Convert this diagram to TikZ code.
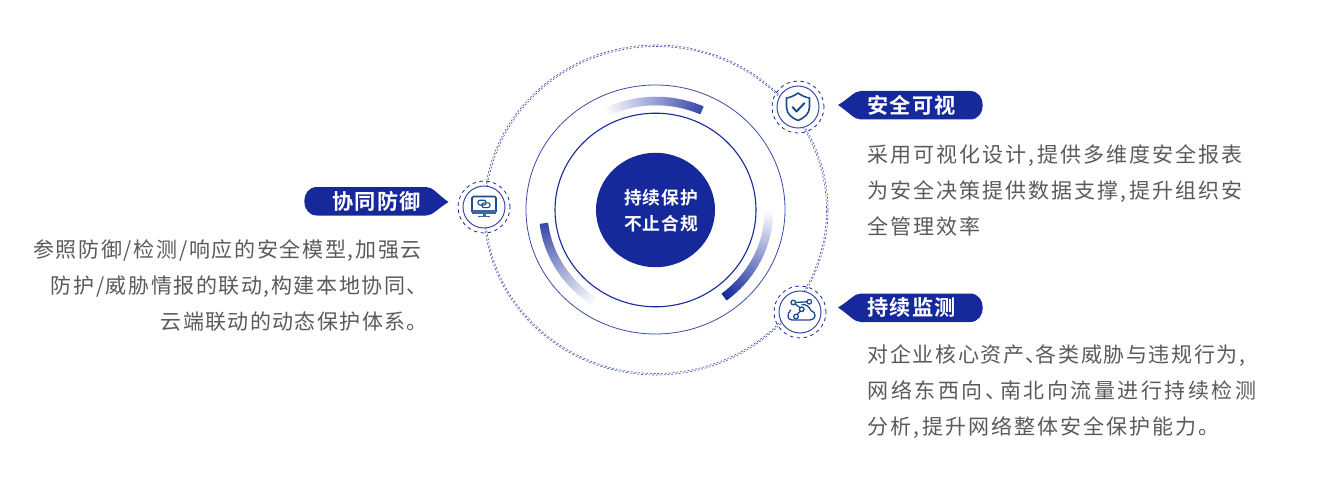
\documentclass[tikz,border=0pt]{standalone}
\usepackage{fontspec}
\setmainfont{Noto Sans CJK SC}
\newfontfamily\bodyf[LetterSpace=9.4]{Noto Sans CJK SC}
\newfontfamily\cone[LetterSpace=7.6]{Noto Sans CJK SC}
\newfontfamily\ctwo[LetterSpace=12]{Noto Sans CJK SC}
\newfontfamily\bone[LetterSpace=8]{Noto Sans CJK SC}
\newfontfamily\btwo[LetterSpace=7.5]{Noto Sans CJK SC}
\newfontfamily\bthree[LetterSpace=6.5]{Noto Sans CJK SC}
\newfontfamily\tagf[LetterSpace=6]{Noto Sans CJK SC Bold}
\newfontfamily\midf[LetterSpace=4.5]{Noto Sans CJK SC Bold}
\definecolor{tagblue}{HTML}{15299A}
\definecolor{ringblue}{HTML}{3A4BA8}
\definecolor{iconblue}{HTML}{1A4C90}
\definecolor{bodygray}{HTML}{5A5A5A}
\newcommand\btext[1]{#1\fontsize{21}{21}\selectfont}
\tikzset{
  bodytext/.style={text=bodygray,inner sep=0pt,font=\btext{\bodyf}},
  tagtext/.style={text=white,inner sep=0pt,font=\tagf\fontsize{21.2}{21.2}\selectfont},
  midtext/.style={text=white,inner sep=0pt,font=\midf\fontsize{17.8}{17.8}\selectfont},
  fine/.style={draw=ringblue,line width=0.6pt,dash pattern=on 2pt off 1.8pt},
  badgedash/.style={draw=tagblue,line width=0.8pt,dash pattern=on 3.5pt off 3.5pt},
  icon/.style={draw=iconblue,line width=1.6pt,line join=round,line cap=round},
}
\newcommand\gradarc[4]{%
  \foreach \i in {0,...,#4}{
    \pgfmathsetmacro\aA{#1+#2*\i}
    \pgfmathsetmacro\aB{#1+#2*(\i+1.4)}
    \pgfmathsetmacro\tint{max(0,#3*(1-\i/#4))}
    \draw[line width=8.5pt,draw=tagblue!\tint!white]
      ({656+113*cos(\aA)},{210-109*sin(\aA)}) -- ({656+113*cos(\aB)},{210-109*sin(\aB)});
  }
}
\newcommand\badge[3]{%
  \node[circle,fill=white,draw=ringblue,line width=1pt,minimum size=42pt,inner sep=0pt] (#1) at (#2,#3) {};
  \draw[badgedash,fill=none] (#1.center) circle [radius=26pt];
}
\newcommand\righttag[1]{%
  \fill[tagblue,shift={(0,#1)}] (861,0) -- (970,0) .. controls (987,0) and (987,28.5) .. (970,28.5) -- (861,28.5)
    .. controls (854,28.5) and (850,22) .. (838,14) .. controls (850,7) and (854,0) .. (861,0) -- cycle;
}
\begin{document}
\begin{tikzpicture}[x=1pt,y=-1pt]
\useasboundingbox (0,0) rectangle (1321,489);
\draw[fine] (656,210) ellipse [x radius=172pt,y radius=165pt];
\draw[fine,dash phase=1.9pt] (656,210) ellipse [x radius=170.5pt,y radius=163.5pt];
\draw[draw=ringblue,line width=0.8pt] (655.5,209.5) ellipse [x radius=129.5pt,y radius=124.5pt];
\draw[draw=tagblue,line width=1.1pt] (655.5,210) ellipse [x radius=100.5pt,y radius=96.8pt];
\gradarc{66}{1}{85}{50}
\gradarc{-53}{1}{100}{52}
\gradarc{187}{1}{85}{50}
\fill[tagblue] (655.5,210) ellipse [x radius=59.5pt,y radius=57.2pt];
\node[midtext,anchor=base] (mid1) at (661,204.5) {持续保护};
\node[midtext,anchor=base] (mid2) at (661,230.5) {不止合规};
\badge{bs}{798}{107}
\badge{bc}{800}{312}
\badge{bm}{484}{207}
\draw[icon] (798,93) .. controls (794,96) and (790,97.5) .. (786.5,98) -- (786.5,107)
  .. controls (786.5,114) and (792,118) .. (798,120.5)
  .. controls (804,118) and (809.5,114) .. (809.5,107) -- (809.5,98)
  .. controls (806,97.5) and (802,96) .. (798,93) -- cycle;
\draw[icon,line width=2pt] (792.5,107) -- (796.5,111.5) -- (804.5,103);
\draw[icon,line width=1.3pt] (790.5,310) .. controls (787,314) and (787,320) .. (792,320) -- (810,320)
  .. controls (816,320) and (817,312) .. (811,310.5) .. controls (809,306) and (806,304.5) .. (802,304.5);
\draw[icon,line width=1.3pt] (795.5,302.5) -- (806.8,301.8);
\draw[icon,line width=1.3pt] (795,304) -- (800.3,307.8);
\draw[icon,line width=1.3pt] (800.5,311) -- (797,314.5);
\draw[icon,line width=1.3pt,fill=white] (793.3,302.5) circle [radius=2.3pt];
\draw[icon,line width=1.3pt,fill=white] (809.3,301.7) circle [radius=2.3pt];
\draw[icon,line width=1.3pt,fill=white] (801.7,309.3) circle [radius=2.3pt];
\draw[icon,line width=1.3pt,fill=white] (796,316.5) circle [radius=2.3pt];
\draw[icon,rounded corners=1.5pt] (472,196.5) rectangle (496,213);
\fill[iconblue!85] (472,210) rectangle (496,213.5);
\fill[iconblue!85] (482.5,213) rectangle (485.5,216);
\fill[iconblue!85] (478,215.5) rectangle (490,217.2);
\draw[icon,line width=1.1pt,rounded corners=2pt] (478,200.2) rectangle (486,205);
\draw[icon,line width=1.1pt,rounded corners=2pt] (482,202.8) rectangle (490,207.6);
\righttag{91}
\righttag{293.5}
\fill[tagblue] (426,187) -- (317,187) .. controls (300,187) and (300,215.5) .. (317,215.5) -- (426,215.5)
  .. controls (433,215.5) and (437,209) .. (448.5,202) .. controls (437,194) and (433,187) .. (426,187) -- cycle;
\node[tagtext,anchor=base west] (t1) at (867,113.2) {安全可视};
\node[tagtext,anchor=base west] (t2) at (867,315.2) {持续监测};
\node[tagtext,anchor=base west] (t3) at (332,209.2) {协同防御};
\node[bodytext,anchor=base west] (a1) at (867.5,162.5) {采用可视化设计,\kern3pt 提供多维度安全报表};
\node[bodytext,anchor=base west] (a2) at (867.5,198.5) {为安全决策提供数据支撑,\kern3pt 提升组织安};
\node[bodytext,anchor=base west] (a3) at (867.5,234.5) {全管理效率};
\node[bodytext,font=\btext{\cone},anchor=base west] (c1) at (867.5,362.5) {对企业核心资产、\kern-11pt 各类威胁与违规行为,};
\node[bodytext,font=\btext{\ctwo},anchor=base west] (c2) at (867.5,398.5) {网络东西向、\kern-6pt 南北向流量进行持续检测};
\node[bodytext,anchor=base west] (c3) at (867.5,434.5) {分析,\kern3pt 提升网络整体安全保护能力。};
\node[bodytext,font=\btext{\bone},anchor=base east] (b1) at (422,257.5) {参照防御/检测/响应的安全模型,加强云};
\node[bodytext,font=\btext{\btwo},anchor=base east] (b2) at (428,293.5) {防护/威胁情报的联动,构建本地协同、};
\node[bodytext,font=\btext{\bthree},anchor=base east] (b3) at (428,329.5) {云端联动的动态保护体系。};
\end{tikzpicture}
\end{document}
